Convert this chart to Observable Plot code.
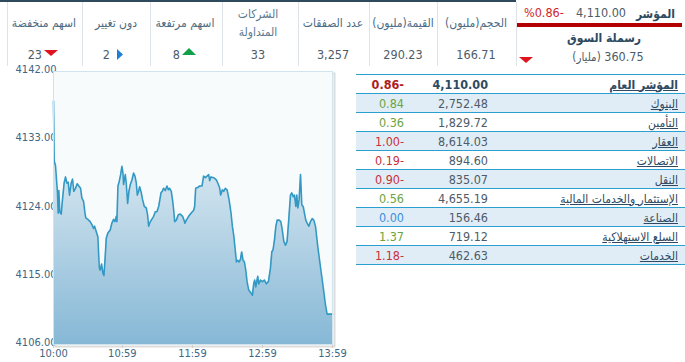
<!DOCTYPE html>
<html><head><meta charset="utf-8">
<script src="https://cdn.jsdelivr.net/npm/d3@7"></script>
<script src="https://cdn.jsdelivr.net/npm/@observablehq/plot@0.6"></script>
<style>
body{margin:0;background:#fff;}
#root{position:relative;width:685px;height:362px;overflow:hidden;font-family:"DejaVu Sans Condensed","DejaVu Sans",sans-serif;}
.t{position:absolute;white-space:nowrap;line-height:16px;height:16px;}
.ln{position:absolute;}
</style></head><body><div id="root"></div>
<script>
// ---- intraday index series (minutes after 10:00, index value) ----
const minutes = [0,0.6,1.7,3.4,4.0,4.6,5.4,6.6,7.7,9.1,
10.3,11.4,12.6,13.7,15.2,16.3,17.4,18.9,20.3,21.7,
23.2,24.3,25.7,27.0,27.7,29.4,31.4,32.9,34.3,35.2,
36.6,38.0,39.2,40.0,41.2,42.3,43.2,44.3,45.2,46.6,
48.6,50.0,51.5,52.6,53.8,54.3,55.2,56.3,57.5,58.6,
59.5,60.0,61.5,62.3,63.5,64.6,65.8,67.2,68.6,69.8,
70.9,71.8,72.9,73.8,75.2,76.3,77.8,79.5,80.6,81.5,
82.3,83.8,85.8,87.2,88.6,90.1,90.9,92.1,93.2,94.3,
95.8,97.2,98.4,99.5,100.9,102.1,102.9,103.8,105.2,106.9,
108.6,110.6,111.8,112.6,113.8,115.8,117.8,120.1,120.9,121.8,
123.5,125.2,127.2,128.6,130.1,131.5,132.9,133.8,134.9,137.2,
139.5,141.0,142.4,143.2,144.7,145.8,147.2,148.7,150.4,152.1,
153.2,154.4,155.5,156.7,157.8,159.0,160.1,161.2,162.4,163.5,
164.7,165.8,167.2,168.7,170.4,171.5,172.4,173.3,174.1,175.0,
175.8,177.3,179.0,180.7,182.4,184.1,185.8,187.0,188.1,189.3,
190.4,191.6,193.3,194.7,195.8,197.3,198.7,200.1,201.3,203.0,
204.1,205.3,206.4,207.6,208.4,209.3,210.4,211.6,212.7,213.9,
215.0,216.1,217.3,218.7,220.1,221.6,223.0,224.4,226.4,228.7,
231.0,233.0,234.4,239.0];
const values = [4138.1,4130.2,4129.6,4126.0,4123.3,4126.3,4123.5,4123.2,4125.1,4127.3,
4128.1,4127.3,4127.4,4125.7,4127.3,4127.8,4126.2,4126.6,4127.2,4126.9,
4126.6,4125.3,4124.9,4123.3,4122.7,4122.5,4122.2,4121.8,4121.3,4121.6,
4120.9,4120.2,4116.2,4115.8,4116.6,4115.4,4115.1,4117.6,4120.0,4120.7,
4121.1,4122.0,4122.5,4122.2,4122.9,4122.2,4126.9,4127.5,4128.4,4129.5,
4128.6,4127.1,4128.4,4127.3,4124.6,4126.2,4127.1,4127.7,4128.6,4128.2,
4127.3,4125.7,4126.2,4126.8,4126.0,4125.1,4124.2,4124.0,4123.1,4121.6,
4122.0,4122.4,4122.9,4123.5,4123.5,4124.2,4124.9,4126.0,4126.2,4126.6,
4126.3,4126.9,4126.4,4126.6,4126.2,4124.9,4123.8,4122.2,4122.4,4123.1,
4123.2,4122.9,4122.4,4122.0,4122.4,4122.9,4123.3,4123.7,4124.2,4126.6,
4126.7,4126.9,4126.9,4128.2,4128.0,4128.2,4128.4,4127.6,4128.1,4128.0,
4127.7,4127.2,4126.6,4125.7,4126.4,4126.2,4126.6,4126.4,4125.1,4123.3,
4121.6,4120.4,4118.7,4116.9,4117.1,4116.9,4117.2,4118.2,4117.1,4116.9,
4115.8,4114.3,4113.2,4112.9,4112.5,4114.0,4114.5,4113.6,4114.3,4115.0,
4114.0,4114.5,4114.3,4114.5,4114.0,4114.3,4116.0,4118.2,4118.5,4119.8,
4121.5,4122.4,4122.4,4122.2,4121.3,4119.6,4119.1,4119.6,4122.0,4125.7,
4126.0,4125.5,4125.7,4124.2,4125.7,4124.0,4125.1,4128.4,4124.4,4124.2,
4123.3,4122.4,4122.0,4121.6,4122.2,4122.6,4122.4,4121.6,4118.9,4116.2,
4113.6,4111.2,4110.0,4110.0];
const xTickMinutes = [0,59,119,179,239];
const xTickLabels = ["10:00","10:59","11:59","12:59","13:59"];
const yTicks = [4106,4115,4124,4133,4142];

// ---- header ----
const headerLabels = ["اسهم منخفضة","دون تغيير","اسهم مرتفعة","الشركات المتداولة","عدد الصفقات","القيمة(مليون)","الحجم(مليون)"];
const headerValues = ["23","2","8","33","3,257","290.23","166.71"];
const indexName = "المؤشر";
const indexValue = "4,110.00";
const indexChange = "%0.86-";
const capLabel = "رسملة السوق";
const capValue = "360.75";
const capUnit = "(مليار)";

// ---- sector table ----
const sectors = ["المؤشر العام","البنوك","التأمين","العقار","الاتصالات","النقل","الإستثمار والخدمات المالية","الصناعة","السلع الاستهلاكية","الخدمات"];
const sectorValues = ["4,110.00","2,752.48","1,829.72","8,614.03","894.60","835.07","4,655.19","156.46","719.12","462.63"];
const sectorChanges = [-0.86,0.84,0.36,-1.00,-0.19,-0.90,0.56,0.00,1.37,-1.18];

const root = document.getElementById("root");
function el(tag, css, html){const e=document.createElement(tag);e.style.cssText=css;if(html!=null)e.innerHTML=html;root.appendChild(e);return e;}
function txt(s, x, y, align, css){
  const w=300; let left = align==='c'? x-w/2 : align==='r'? x-w : x;
  const e=el("div",`left:${left}px;top:${y-8}px;width:${w}px;text-align:${align==='c'?'center':align==='r'?'right':'left'};`+(css||""));
  e.className="t"; e.textContent=s; return e;
}
function tri(x,y,w,h,dir,color){
  const pts = dir==='down'?`0,0 ${w},0 ${w/2},${h}`: dir==='up'?`0,${h} ${w},${h} ${w/2},0`:`0,0 ${w},${h/2} 0,${h}`;
  el("div",`position:absolute;left:${x}px;top:${y}px;width:${w}px;height:${h}px;`,
    `<svg width="${w}" height="${h}" style="display:block"><polygon points="${pts}" fill="${color}"/></svg>`);
}

// ---- chart (Plot) ----
const data = minutes.map((m,i)=>({m, v: values[i]}));
const chart = Plot.plot({
  width: 345, height: 362,
  marginLeft: 53, marginRight: 13, marginTop: 71, marginBottom: 18,
  style: {fontFamily: '"DejaVu Sans Condensed","DejaVu Sans",sans-serif', fontSize: "11px", color: "#3d6784", background: "transparent", overflow: "visible"},
  x: {domain: [0, 239], label: null},
  y: {domain: [4106, 4142], label: null},
  marks: [
    Plot.axisY({ticks: yTicks, tickSize: 0, tickPadding: -3, dy: -2, label: null, tickFormat: d => d.toFixed(2), fill: "#3d6784"}),
    Plot.frame({stroke: "#dcdcdc", strokeWidth: 2, dx: 2, dy: 2}),
    Plot.frame({fill: "#f7fbfc"}),
    Plot.areaY(data, {x: "m", y1: 4106, y2: "v", fill: "url(#areaGrad)", curve: "linear"}),
    Plot.lineY(data, {x: "m", y: "v", stroke: "#3399c4", strokeWidth: 1.6}),
    Plot.frame({stroke: "#cfe4ef"}),
    Plot.axisX({ticks: xTickMinutes, label: null, tickFormat: d => xTickLabels[xTickMinutes.indexOf(d)], tickSize: 3, tickPadding: 1, dy: 1, stroke: "#cccccc", fill: "#3d6784"})
  ]
});
chart.style.position = "absolute"; chart.style.left = "0px"; chart.style.top = "0px";
const NS = "http://www.w3.org/2000/svg";
const defs = document.createElementNS(NS, "defs");
const grad = document.createElementNS(NS, "linearGradient");
grad.setAttribute("id","areaGrad"); grad.setAttribute("gradientUnits","userSpaceOnUse");
grad.setAttribute("x1","0"); grad.setAttribute("x2","0"); grad.setAttribute("y1","71"); grad.setAttribute("y2","344");
[["0","#eef5f9"],["0.45","#c9dfec"],["1","#86b8d6"]].forEach(([o,c])=>{const s=document.createElementNS(NS,"stop");s.setAttribute("offset",o);s.setAttribute("stop-color",c);grad.appendChild(s);});
defs.appendChild(grad); chart.insertBefore(defs, chart.firstChild);
root.appendChild(chart);

// ---- header ----
el("div","position:absolute;left:0;top:0;width:516px;height:2px;background:#2f4a5c;");
[7,82,150,222,298,369,437,516].forEach(x=>el("div",`position:absolute;left:${x}px;top:2px;width:1px;height:64px;background:#dde3e8;`));
const hc = [44,116,185,258,333,403,476];
const labCss = "font-size:12px;color:#4b6b84;";
headerLabels.forEach((s,i)=>{
  if(i===3){ const p=s.split(" "); txt(p[0],hc[i],14,'c',labCss+"color:#5d7a90;"); txt(p[1],hc[i],32,'c',labCss+"color:#5d7a90;"); }
  else txt(s,hc[i],23,'c',labCss);
});
const valCss = "font-size:12.5px;color:#4d5c68;";
txt(headerValues[0],42,55,'r',valCss); tri(44,50,14,6,'down',"#e0141e");
txt(headerValues[1],110,55,'r',valCss); tri(117,49,6,11,'right',"#1f7fd6");
txt(headerValues[2],180,55,'r',valCss); tri(182,48,14,7,'up',"#11a04a");
for(let i=3;i<7;i++) txt(headerValues[i],hc[i],55,'c',valCss);

// index box
txt(indexName,675,14,'r',"font-size:12px;font-weight:bold;color:#2e4a62;");
txt(indexValue,626,13,'r',"font-size:12.5px;color:#4d5c68;");
txt(indexChange,524,13,'l',"font-size:12.5px;color:#d0262c;");
el("div","position:absolute;left:517px;top:23px;width:165px;height:4px;background:#b30000;");
txt(capLabel,604,38,'c',"font-size:12px;font-weight:bold;color:#2e4a62;");
const cap = txt("",608,57,'c',"font-size:12.5px;color:#4d5c68;");
cap.innerHTML = `<span style="font-size:11.5px">${capUnit}</span> ${capValue}`;
tri(519,57,14,6,'down',"#e0141e");

// ---- sector table ----
el("div","position:absolute;left:356px;top:74px;width:329px;height:1px;background:#2a9fd0;");
sectors.forEach((s,i)=>{
  const top = 75 + 19*i;
  el("div",`position:absolute;left:356px;top:${top}px;width:329px;height:18px;background:${i%2? '#e1edf6':'#ffffff'};border-bottom:1px solid #2a9fd0;`);
  const cy = top + 9.5;
  const bold = i===0 ? "font-weight:bold;" : "";
  txt(s,678,cy,'r',"font-size:12px;color:#2e4a62;text-decoration:underline;"+bold);
  txt(sectorValues[i],488,cy,'r',"font-size:12.5px;color:"+(i===0?"#2e4a62":"#4d5c68")+";"+bold);
  const c = sectorChanges[i];
  const col = c<0 ? (i===0?"#b01c22":"#c8323a") : c>0 ? "#6aa53f" : "#3c8fdc";
  const str = c<0 ? Math.abs(c).toFixed(2)+"-" : c.toFixed(2);
  txt(str,404,cy,'r',"font-size:12.5px;color:"+col+";"+bold);
});
</script></body></html>
